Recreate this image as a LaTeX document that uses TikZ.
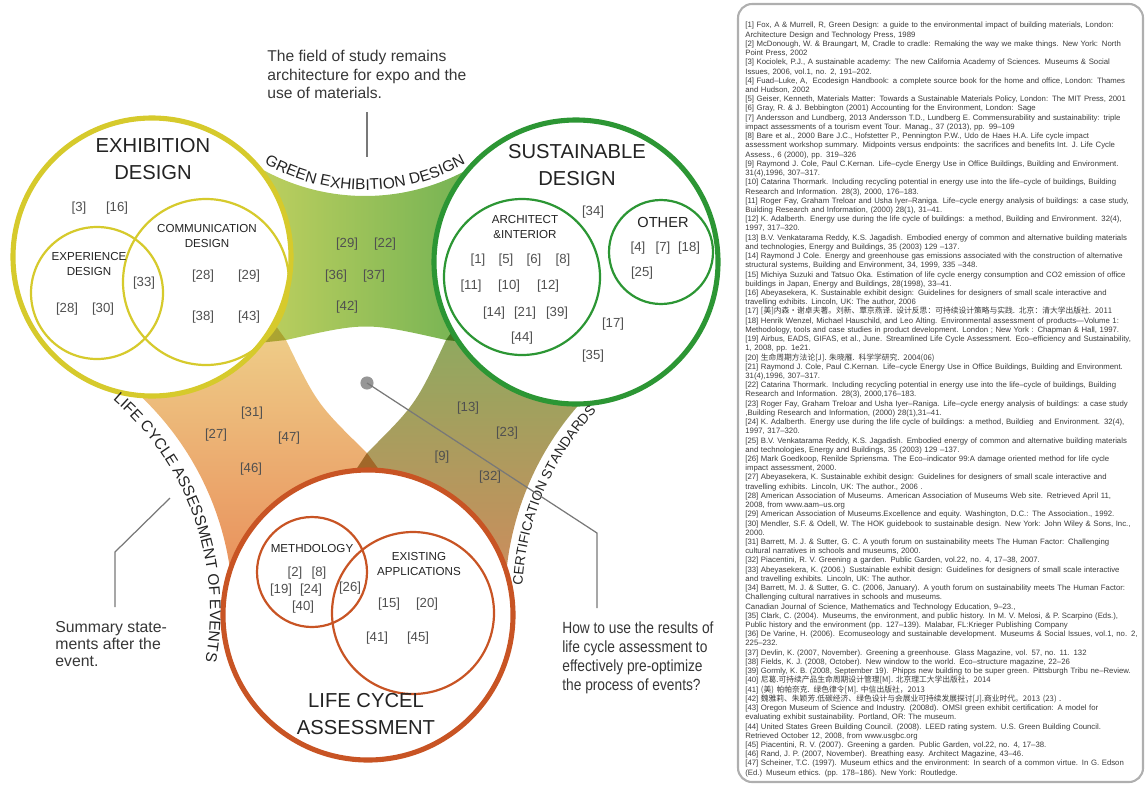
\documentclass[tikz,border=0pt]{standalone}
\usepackage{fontspec}
\setmainfont{Liberation Sans}
\setsansfont{Liberation Sans}
\newfontfamily\cjk{Noto Sans CJK SC}
\newfontfamily\annnarrow{Liberation Sans}[FakeStretch=0.85]
\usetikzlibrary{calc,decorations.text}

% circle strokes and text colours
\definecolor{yelc}{RGB}{214,202,44}
\definecolor{grnc}{RGB}{44,150,52}
\definecolor{redc}{RGB}{200,84,36}
\definecolor{txt}{RGB}{35,35,35}
\definecolor{numc}{RGB}{80,80,80}
\definecolor{anntxt}{RGB}{55,55,55}
\definecolor{linec}{RGB}{120,120,120}
\definecolor{dotc}{RGB}{150,150,150}
\definecolor{boxc}{RGB}{175,175,175}
\definecolor{reftxt}{RGB}{60,60,60}
% band gradients
\definecolor{gbL}{RGB}{228,222,100}
\definecolor{gbM}{RGB}{178,206,118}
\definecolor{gbR}{RGB}{78,164,78}
\definecolor{obT}{RGB}{240,224,150}
\definecolor{obM}{RGB}{240,200,140}
\definecolor{obB}{RGB}{232,134,84}
\definecolor{bbT}{RGB}{124,178,96}
\definecolor{bbM}{RGB}{186,176,122}
\definecolor{bbB}{RGB}{214,136,92}

\newcommand\dgTitle{\fontsize{11.5}{15.3}\selectfont}
\newcommand\dgSub{\fontsize{6.6}{9}\selectfont}
\newcommand\dgOther{\fontsize{8.3}{9}\selectfont}
\newcommand\dgNum{\fontsize{7.5}{9}\selectfont}
\newcommand\dgCurve{\fontsize{8.8}{10}\selectfont}
\newcommand\dgCurveS{\fontsize{7.8}{9}\selectfont}
\newcommand\dgAnn{\fontsize{8.9}{10.5}\selectfont}
\newcommand\dgAnnL{\fontsize{9}{9.6}\selectfont}
\newcommand\dgAnnR{\annnarrow\fontsize{9.2}{10.9}\selectfont}
\newcommand\dgRef{\fontsize{4.42}{5.25}\selectfont}

\begin{document}
\begin{tikzpicture}[x=0.02cm, y=-0.02cm,
  bigc/.style={line width=2.9pt, fill=white},
  subc/.style={line width=1.25pt},
  band/.style={blend mode=multiply},
  title/.style={font=\dgTitle, text=txt, align=center, inner sep=0pt},
  sublab/.style={font=\dgSub, text=txt, align=center, inner sep=0pt},
  num/.style={font=\dgNum, text=numc, inner sep=0pt},
  ann/.style={text=anntxt, align=left, inner sep=0pt, anchor=north west},
  annline/.style={draw=linec, line width=0.7pt},
  curvelab/.style 2 args={decorate, decoration={text along path, text align=center,
    text color=txt, text={|#1|#2}}}
]
\useasboundingbox (0,0) rectangle (1148,785);

% centres of the three main fields
\coordinate (cY) at (152,257);
\coordinate (cG) at (576,262);
\coordinate (cR) at (368,615);
% centres of the white cut-outs that shape the outer band edges
\coordinate (oT) at (365,-16);
\coordinate (oL) at (-63,611);
\coordinate (oRt) at (800,600);
% centre of the arc that carries the left-hand label
\coordinate (oLt) at (-68,611);
% corners of the white centre
\coordinate (vL) at (286,340);
\coordinate (vR) at (446,340);
\coordinate (vB) at (367,453);

% connecting bands
\shade[band, left color=gbL, middle color=gbM, right color=gbR]
  (cY) -- ($(oT)+(128:212)$) arc[start angle=128, end angle=52.8, radius=212]
  -- (cG) -- (492,345) -- (vR) .. controls (366,322) .. (vL) -- (240,345) -- cycle;
\shade[band, top color=obT, middle color=obM, bottom color=obB]
  (cY) -- ($(oL)+(-59:296)$) arc[start angle=-59, end angle=0.7, radius=296]
  -- (cR) -- (390,485) -- (vB) .. controls (317,404) .. (vL) -- (263,308) -- cycle;
\shade[band, top color=bbT, middle color=bbM, bottom color=bbB]
  (cG) -- ($(oRt)+(236.5:295)$) arc[start angle=236.5, end angle=178, radius=295]
  -- (cR) -- (346,485) -- (vB) .. controls (416,404) .. (vR) -- (469,308) -- cycle;

% main fields
\draw[bigc, draw=yelc] (cY) circle[radius=139];
\draw[bigc, draw=grnc] (cG) circle[radius=142];
\draw[bigc, draw=redc] (cR) circle[radius=145];

% band labels along the curved edges
\path[curvelab={\dgCurve}{GREEN EXHIBITION DESIGN}]
  ($(oT)+(132:206)$) arc[start angle=132, end angle=48, radius=206];
\path[curvelab={\dgCurve}{LIFE CYCLE ASSESSMENT OF EVENTS}]
  ($(oLt)+(-53:278)$) arc[start angle=-53, end angle=14, radius=278];
\path[curvelab={\dgCurveS}{CERTIFICATION STANDARDS}]
  ($(oRt)+(181:278)$) arc[start angle=181, end angle=225, radius=278];

% sub fields
\draw[subc, draw=yelc] (97,293) circle[radius=66];
\draw[subc, draw=yelc] (206,282) circle[radius=83];
\draw[subc, draw=grnc] (522,277) circle[radius=78];
\draw[subc, draw=grnc] (661,252) circle[radius=52];
\draw[subc, draw=redc] (312,572) circle[radius=55];
\draw[subc, draw=redc] (413,613) circle[radius=81];

% field titles
\node[title] (exhT) at (153,159) {EXHIBITION\\DESIGN};
\node[title] (susT) at (577,165) {SUSTAINABLE\\DESIGN};
\node[title] (lcaT) at (366,714) {LIFE CYCEL\\ASSESSMENT};
\node[sublab] (expT) at (89,264) {EXPERIENCE\\DESIGN};
\node[sublab] (comT) at (207,236) {COMMUNICATION\\DESIGN};
\node[sublab] (arcT) at (525,227) {ARCHITECT\\\&INTERIOR};
\node[sublab, font=\dgOther] (othT) at (663,222) {OTHER};
\node[sublab] (metT) at (312,548) {METHDOLOGY};
\node[sublab] (exiT) at (419,564) {EXISTING\\APPLICATIONS};

% reference numbers
\foreach \t/\x/\y [count=\i] in {
  3/79/208, 16/117/208, 33/144/283, 28/203/276, 29/249/276, 28/67/309,
  30/103/309, 38/203/317, 43/249/317,
  29/347/244, 22/385/244, 36/336/276, 37/374/276, 42/347/307,
  34/593/212, 4/638/248, 7/663/248, 18/689/248, 25/642/273,
  1/478/260, 5/506/260, 6/534/260, 8/563/260, 11/471/286, 10/509/286,
  12/548/286, 14/494/313, 21/525/313, 39/557/313, 44/522/338,
  17/613/324, 35/593/356,
  31/252/413, 27/216/435, 47/289/438, 46/251/469,
  13/468/408, 23/507/433, 9/442/457, 32/490/477,
  2/295/573, 8/319/573, 19/281/590, 24/311/590, 40/303/607, 26/350/588,
  15/389/604, 20/427/604, 41/377/638, 45/418/638}
  \node[num] (n\i) at (\x,\y) {[\t]};

% annotations
\node[ann, font=\dgAnn] (annT) at (267,50) {The field of study remains\\architecture for expo and the\\use of materials.};
\node[ann, font=\dgAnnL] (annL) at (55,621) {Summary state-\\ments after the\\event.};
\node[ann, font=\dgAnnR] (annR) at (562,621) {How to use the results of\\life cycle assessment to\\effectively pre-optimize\\the process of events?};

\coordinate (tA) at (367,112);
\coordinate (tB) at (367,157);
\draw[annline] (tA) -- (tB);

\node[circle, fill=dotc, minimum size=7.5pt, inner sep=0pt] (dot) at (367,383) {};
\coordinate (rK) at (597,533);
\coordinate (rE) at (597,608);
\draw[annline] (dot.center) -- (rK) -- (rE);

\coordinate (lA) at (170,498);
\coordinate (lK) at (115,552);
\coordinate (lE) at (115,607);
\draw[annline] (lA) -- (lK) -- (lE);

% reference list
\draw[draw=boxc, line width=1.2pt, rounded corners=8pt] (738,4) rectangle (1143,782);
\node[anchor=north west, inner sep=0pt, text width=250pt, align=left, font=\dgRef, text=reftxt] (refs) at (745,22) {%
[1] Fox, A \& Murrell, R, Green Design: a guide to the environmental impact of building materials, London:\\
Architecture Design and Technology Press, 1989\\{}
[2] McDonough, W. \& Braungart, M, Cradle to cradle: Remaking the way we make things. New York: North\\
Point Press, 2002\\{}
[3] Kociolek, P.J., A sustainable academy: The new California Academy of Sciences. Museums \& Social\\
Issues, 2006, vol.1, no. 2, 191–202.\\{}
[4] Fuad–Luke, A,\ \ Ecodesign Handbook: a complete source book for the home and office, London: Thames\\
and Hudson, 2002\\{}
[5] Geiser, Kenneth, Materials Matter: Towards a Sustainable Materials Policy, London: The MIT Press, 2001\\{}
[6] Gray, R. \& J. Bebbington (2001) Accounting for the Environment, London: Sage\\{}
[7] Andersson and Lundberg, 2013 Andersson T.D., Lundberg E. Commensurability and sustainability: triple\\
impact assessments of a tourism event Tour. Manag., 37 (2013), pp. 99–109\\{}
[8] Bare et al., 2000 Bare J.C., Hofstetter P., Pennington P.W., Udo de Haes H.A. Life cycle impact\\
assessment workshop summary. Midpoints versus endpoints: the sacrifices and benefits Int. J. Life Cycle\\
Assess., 6 (2000), pp. 319–326\\{}
[9] Raymond J. Cole, Paul C.Kernan. Life–cycle Energy Use in Office Buildings, Building and Environment.\\
31(4),1996, 307–317.\\{}
[10] Catarina Thormark. Including recycling potential in energy use into the life–cycle of buildings, Building\\
Research and Information. 28(3), 2000, 176–183.\\{}
[11] Roger Fay, Graham Treloar and Usha Iyer–Raniga. Life–cycle energy analysis of buildings: a case study,\\
Building Research and Information, (2000) 28(1), 31–41.\\{}
[12] K. Adalberth. Energy use during the life cycle of buildings: a method, Building and Environment. 32(4),\\
1997, 317–320.\\{}
[13] B.V. Venkatarama Reddy, K.S. Jagadish. Embodied energy of common and alternative building materials\\
and technologies, Energy and Buildings, 35 (2003) 129 –137.\\{}
[14] Raymond J Cole. Energy and greenhouse gas emissions associated with the construction of alternative\\
structural systems, Building and Environment, 34, 1999, 335 –348.\\{}
[15] Michiya Suzuki and Tatsuo Oka. Estimation of life cycle energy consumption and CO2 emission of office\\
buildings in Japan, Energy and Buildings, 28(1998), 33–41.\\{}
[16] Abeyasekera, K. Sustainable exhibit design: Guidelines for designers of small scale interactive and\\
travelling exhibits. Lincoln, UK: The author, 2006\\{}
[17] {\cjk [美]内森·谢卓夫著。刘新、覃京燕译. 设计反思：可持续设计策略与实践. 北京：清大学出版社. 2011}\\{}
[18] Henrik Wenzel, Michael Hauschild, and Leo Alting. Environmental assessment of products—Volume 1:\\
Methodology, tools and case studies in product development. London ; New York : Chapman \& Hall, 1997.\\{}
[19] Airbus, EADS, GIFAS, et al., June. Streamlined Life Cycle Assessment. Eco–efficiency and Sustainability,\\
1, 2008, pp. 1e21.\\{}
[20] {\cjk 生命周期方法论[J]. 朱晓雁. 科学学研究. 2004(06)}\\{}
[21] Raymond J. Cole, Paul C.Kernan. Life–cycle Energy Use in Office Buildings, Building and Environment.\\
31(4),1996, 307–317.\\{}
[22] Catarina Thormark. Including recycling potential in energy use into the life–cycle of buildings, Building\\
Research and Information. 28(3), 2000,176–183.\\{}
[23] Roger Fay, Graham Treloar and Usha Iyer–Raniga. Life–cycle energy analysis of buildings: a case study\\
,Building Research and Information, (2000) 28(1),31–41.\\{}
[24] K. Adalberth. Energy use during the life cycle of buildings: a method, Buildieg\ \ and Environment. 32(4),\\
1997, 317–320.\\{}
[25] B.V. Venkatarama Reddy, K.S. Jagadish. Embodied energy of common and alternative building materials\\
and technologies, Energy and Buildings, 35 (2003) 129 –137.\\{}
[26] Mark Goedkoop, Renilde Spriensma. The Eco–indicator 99:A damage oriented method for life cycle\\
impact assessment, 2000.\\{}
[27] Abeyasekera, K. Sustainable exhibit design: Guidelines for designers of small scale interactive and\\
travelling exhibits. Lincoln, UK: The author., 2006 .\\{}
[28] American Association of Museums. American Association of Museums Web site. Retrieved April 11,\\
2008, from www.aam–us.org\\{}
[29] American Association of Museums.Excellence and equity. Washington, D.C.: The Association., 1992.\\{}
[30] Mendler, S.F. \& Odell, W. The HOK guidebook to sustainable design. New York: John Wiley \& Sons, Inc.,\\
2000.\\{}
[31] Barrett, M. J. \& Sutter, G. C. A youth forum on sustainability meets The Human Factor: Challenging\\
cultural narratives in schools and museums, 2000.\\{}
[32] Piacentini, R. V. Greening a garden. Public Garden, vol.22, no. 4, 17–38, 2007.\\{}
[33] Abeyasekera, K. (2006.) Sustainable exhibit design: Guidelines for designers of small scale interactive\\
and travelling exhibits. Lincoln, UK: The author.\\{}
[34] Barrett, M. J. \& Sutter, G. C. (2006, January). A youth forum on sustainability meets The Human Factor:\\
Challenging cultural narratives in schools and museums.\\
Canadian Journal of Science, Mathematics and Technology Education, 9–23.,\\{}
[35] Clark, C. (2004). Museums, the environment, and public history. In M. V. Melosi, \& P. Scarpino (Eds.),\\
Public history and the environment (pp. 127–139). Malabar, FL:Krieger Publishing Company\\{}
[36] De Varine, H. (2006). Ecomuseology and sustainable development. Museums \& Social Issues, vol.1, no. 2,\\
225–232.\\{}
[37] Devlin, K. (2007, November). Greening a greenhouse. Glass Magazine, vol. 57, no. 11. 132\\{}
[38] Fields, K. J. (2008, October). New window to the world. Eco–structure magazine, 22–26\\{}
[39] Gormly, K. B. (2008, September 19). Phipps new building to be super green. Pittsburgh Tribu ne–Review.\\{}
[40] {\cjk 尼葛.可持续产品生命周期设计管理[M]. 北京理工大学出版社，2014}\\{}
[41] {\cjk (美) 帕帕奈克. 绿色律令[M]. 中信出版社，2013}\\{}
[42] {\cjk 魏雅莉、朱颖芳.低碳经济、绿色设计与会展业可持续发展探讨[J].商业时代。2013 (23) .}\\{}
[43] Oregon Museum of Science and Industry. (2008d). OMSI green exhibit certification: A model for\\
evaluating exhibit sustainability. Portland, OR: The museum.\\{}
[44] United States Green Building Council. (2008). LEED rating system. U.S. Green Building Council.\\
Retrieved October 12, 2008, from www.usgbc.org\\{}
[45] Piacentini, R. V. (2007). Greening a garden. Public Garden, vol.22, no. 4, 17–38.\\{}
[46] Rand, J. P. (2007, November). Breathing easy. Architect Magazine, 43–46.\\{}
[47] Scheiner, T.C. (1997). Museum ethics and the environment: In search of a common virtue. In G. Edson\\
(Ed.) Museum ethics. (pp. 178–186). New York: Routledge.};
\end{tikzpicture}
\end{document}
